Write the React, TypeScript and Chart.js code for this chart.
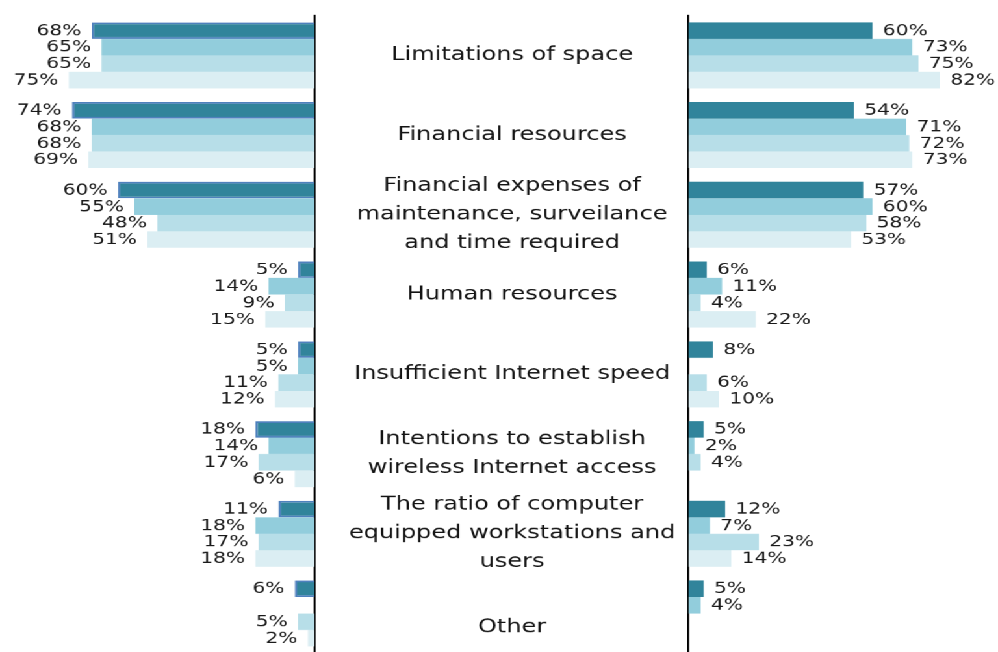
import React, { useEffect, useRef } from 'react';
import { Chart, registerables } from 'chart.js';

Chart.register(...registerables);

const categories: (string | string[])[] = [
  'Limitations of space',
  'Financial resources',
  ['Financial expenses of', 'maintenance, surveilance', 'and time required'],
  'Human resources',
  'Insufficient Internet speed',
  ['Intentions to establish', 'wireless Internet access'],
  ['The ratio of computer', 'equipped workstations and', 'users'],
  ['', 'Other'],
];

const seriesNames = ['Series 1', 'Series 2', 'Series 3', 'Series 4'];

const left1 = [68, 74, 60, 5, 5, 18, 11, 6];
const left2 = [65, 68, 55, 14, 5, 14, 18, null];
const left3 = [65, 68, 48, 9, 11, 17, 17, 5];
const left4 = [75, 69, 51, 15, 12, 6, 18, 2];

const right1 = [60, 54, 57, 6, 8, 5, 12, 5];
const right2 = [73, 71, 60, 11, null, 2, 7, 4];
const right3 = [75, 72, 58, 4, 6, 4, 23, null];
const right4 = [82, 73, 53, 22, 10, null, 14, null];

const colors = ['#31849B', '#92CDDC', '#B7DEE8', '#DBEEF3'];
const leftBorder = '#4F81BD';

const STRETCH = 998 / 768;
const FONT = '"DejaVu Sans", Verdana, sans-serif';

function valueLabels(side: 'left' | 'right') {
  return {
    id: 'valueLabels' + side,
    afterDatasetsDraw(chart: any) {
      const ctx = chart.ctx;
      ctx.save();
      ctx.font = '15.5px ' + FONT;
      ctx.fillStyle = '#1a1a1a';
      ctx.textBaseline = 'middle';
      ctx.textAlign = side === 'left' ? 'right' : 'left';
      chart.data.datasets.forEach((ds: any, i: number) => {
        const meta = chart.getDatasetMeta(i);
        meta.data.forEach((bar: any, j: number) => {
          const v = ds.data[j];
          if (v == null) return;
          const x = side === 'left' ? bar.x - 8 : bar.x + 8;
          ctx.fillText(v + '%', x, bar.y + 0.5);
        });
      });
      ctx.restore();
    },
  };
}

function makeDatasets(series: (number | null)[][], side: 'left' | 'right') {
  return series.map((d, i) => ({
    label: seriesNames[i],
    data: d,
    backgroundColor: colors[i],
    borderColor: side === 'left' && i === 0 ? leftBorder : colors[i],
    borderWidth: side === 'left' && i === 0 ? 1.8 : 0,
    borderSkipped: 'start' as const,
    categoryPercentage: 0.828,
    barPercentage: 1,
  }));
}

export default function App() {
  const leftRef = useRef<HTMLCanvasElement>(null);
  const rightRef = useRef<HTMLCanvasElement>(null);

  useEffect(() => {
    const common = {
      indexAxis: 'y' as const,
      animation: false as const,
      responsive: true,
      maintainAspectRatio: false,
      devicePixelRatio: 1.5,
      events: [] as any[],
      plugins: { legend: { display: false }, tooltip: { enabled: false } },
    };

    const left = new Chart(leftRef.current!, {
      type: 'bar',
      data: { labels: categories as any, datasets: makeDatasets([left1, left2, left3, left4], 'left') as any },
      options: {
        ...common,
        layout: { padding: { top: 15.5, bottom: 2, left: 0, right: 0 } },
        scales: {
          x: { type: 'linear', reverse: true, min: 0, max: 96, display: false },
          y: {
            position: 'right',
            grid: { display: false },
            ticks: { display: false },
            border: { display: true, color: '#000', width: 1.6 },
            afterFit: (s: any) => {
              s.width = 4;
              s.paddingTop = 0;
              s.paddingBottom = 0;
            },
          },
        },
      } as any,
      plugins: [valueLabels('left')],
    });

    const right = new Chart(rightRef.current!, {
      type: 'bar',
      data: { labels: categories as any, datasets: makeDatasets([right1, right2, right3, right4], 'right') as any },
      options: {
        ...common,
        layout: { padding: { top: 15.5, bottom: 2, left: 0, right: 2.15 } },
        scales: {
          x: { type: 'linear', min: 0, max: 100, display: false },
          y: {
            position: 'left',
            grid: { display: false },
            border: { display: true, color: '#000', width: 1.6 },
            ticks: {
              crossAlign: 'center',
              padding: 2,
              color: '#141414',
              font: { family: FONT, size: 18.5, lineHeight: 1.55 },
              autoSkip: false,
            },
            afterFit: (s: any) => {
              s.width = 287.7;
              s.paddingTop = 0;
              s.paddingBottom = 0;
            },
          },
        },
      } as any,
      plugins: [valueLabels('right')],
    });

    return () => {
      left.destroy();
      right.destroy();
    };
  }, []);

  return (
    <div
      style={{
        position: 'fixed',
        left: 0,
        top: 0,
        width: 998,
        height: 652,
        overflow: 'hidden',
        background: '#fff',
      }}
    >
      <div
        style={{
          position: 'absolute',
          left: 0,
          top: 0,
          width: 768,
          height: 655,
          transform: `scaleX(${STRETCH})`,
          transformOrigin: '0 0',
        }}
      >
        <div style={{ position: 'absolute', left: 0, top: 0, width: 246, height: 655 }}>
          <canvas ref={leftRef} />
        </div>
        <div style={{ position: 'absolute', left: 242, top: 0, width: 526, height: 655 }}>
          <canvas ref={rightRef} />
        </div>
      </div>
    </div>
  );
}
